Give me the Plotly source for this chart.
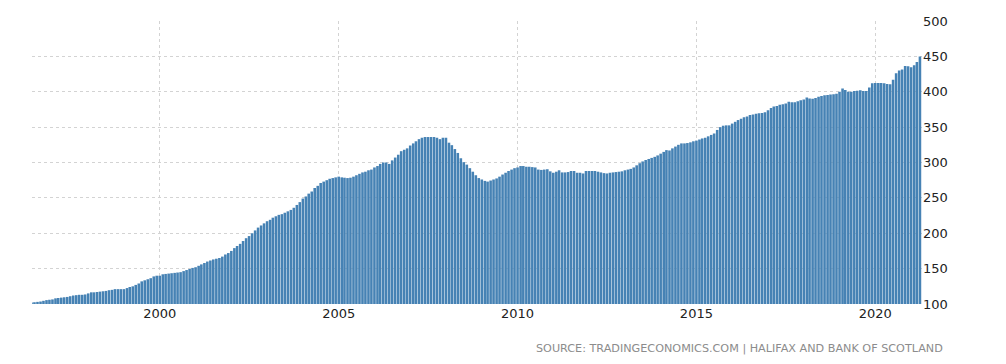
import pandas as pd
import plotly.graph_objects as go

# Halifax house price index, monthly, Jun 1996 - Apr 2021
start_month = "1996-06-01"
v1996 = [102.0, 102.5, 103.0, 103.5, 104.5, 105.5, 106.0]
v1997 = [106.5, 108.0, 108.5, 109.0, 109.5, 110.0, 111.0, 112.0, 112.5, 113.0, 113.0, 113.5]
v1998 = [115.0, 116.5, 116.5, 117.0, 117.5, 118.0, 118.5, 119.5, 120.0, 121.0, 121.0, 121.0]
v1999 = [121.0, 122.5, 124.0, 125.0, 127.0, 129.0, 132.0, 133.5, 135.0, 136.5, 139.0, 140.0]
v2000 = [140.0, 142.0, 142.5, 143.0, 143.5, 144.0, 144.5, 145.0, 146.5, 148.0, 149.5, 151.0]
v2001 = [152.0, 154.0, 156.0, 158.0, 160.0, 161.5, 163.0, 164.0, 165.0, 167.0, 170.0, 172.0]
v2002 = [175.0, 179.0, 182.0, 185.0, 189.0, 193.0, 196.0, 200.0, 204.0, 208.0, 211.0, 214.0]
v2003 = [217.0, 219.0, 222.0, 224.0, 226.0, 227.0, 229.0, 231.0, 233.0, 236.0, 240.0, 244.0]
v2004 = [249.0, 252.0, 256.0, 259.0, 264.0, 267.0, 271.0, 273.0, 275.0, 277.0, 278.0, 279.0]
v2005 = [280.0, 279.0, 278.5, 278.0, 278.5, 280.0, 282.0, 284.0, 286.0, 287.0, 289.0, 290.0]
v2006 = [293.0, 295.0, 298.0, 300.0, 300.0, 298.0, 303.0, 307.0, 311.0, 316.0, 318.0, 320.0]
v2007 = [324.0, 327.0, 330.0, 333.0, 335.0, 336.0, 336.0, 336.0, 336.0, 335.0, 333.0, 335.0]
v2008 = [335.0, 328.0, 324.5, 319.0, 313.5, 306.0, 300.5, 297.0, 292.0, 287.0, 282.0, 278.0]
v2009 = [276.0, 274.0, 273.0, 274.5, 276.0, 277.5, 280.0, 283.0, 285.5, 288.0, 290.0, 292.0]
v2010 = [293.0, 295.0, 295.0, 294.0, 294.0, 293.5, 293.0, 290.0, 289.5, 290.0, 290.5, 287.5]
v2011 = [285.5, 287.0, 289.0, 286.0, 286.0, 286.5, 288.0, 288.0, 285.5, 285.5, 284.5, 288.0]
v2012 = [288.0, 288.0, 288.0, 287.0, 286.0, 285.0, 284.5, 285.5, 286.0, 286.5, 287.0, 287.5]
v2013 = [289.0, 290.0, 291.0, 293.0, 296.0, 299.0, 301.5, 303.5, 305.0, 306.5, 308.0, 310.0]
v2014 = [312.5, 315.0, 317.5, 317.0, 320.0, 322.5, 325.0, 327.0, 327.0, 327.5, 328.5, 330.0]
v2015 = [331.0, 332.5, 334.0, 335.0, 337.0, 339.0, 341.0, 346.0, 350.0, 352.0, 352.5, 352.5]
v2016 = [355.0, 357.5, 360.0, 362.0, 364.0, 365.0, 367.0, 368.0, 369.0, 369.5, 370.0, 371.0]
v2017 = [374.0, 377.0, 379.0, 380.0, 381.5, 382.5, 383.5, 386.0, 385.0, 385.0, 386.5, 388.0]
v2018 = [389.0, 392.0, 390.5, 390.0, 391.0, 393.0, 394.0, 395.0, 395.5, 396.0, 396.5, 397.0]
v2019 = [400.0, 404.5, 402.5, 400.0, 400.0, 401.0, 401.5, 402.0, 401.0, 401.0, 406.0, 412.0]
v2020 = [412.5, 412.5, 412.5, 412.0, 411.0, 410.5, 417.0, 426.0, 430.0, 431.5, 436.5, 436.0]
v2021 = [434.5, 437.5, 442.0, 450.0]

y_ticks = [100, 150, 200, 250, 300, 350, 400, 450, 500]
x_tick_years = ["2000", "2005", "2010", "2015", "2020"]
source_text = "SOURCE: TRADINGECONOMICS.COM | HALIFAX AND BANK OF SCOTLAND"

values = (v1996 + v1997 + v1998 + v1999 + v2000 + v2001 + v2002 + v2003 + v2004
          + v2005 + v2006 + v2007 + v2008 + v2009 + v2010 + v2011 + v2012 + v2013
          + v2014 + v2015 + v2016 + v2017 + v2018 + v2019 + v2020 + v2021)
dates = pd.date_range(start_month, periods=len(values), freq="MS")

fig = go.Figure()
fig.add_trace(go.Bar(
    x=dates, y=values,
    marker=dict(color="#4682B4", line=dict(width=0)),
    hoverinfo="x+y",
))

grid_color = "#d3d3d3"
tick_font = dict(family="DejaVu Sans", size=13, color="#222222")

fig.update_layout(
    width=1006, height=364,
    margin=dict(l=32, r=84, t=21, b=60),
    paper_bgcolor="white", plot_bgcolor="white",
    bargap=0.06,
    showlegend=False,
    xaxis=dict(
        type="date",
        range=["1996-06-06", "2021-04-22"],
        tickvals=[y + "-01-01" for y in x_tick_years],
        ticktext=x_tick_years,
        showgrid=True, gridcolor=grid_color, griddash="dot", gridwidth=1,
        showline=False, zeroline=False, ticks="",
        tickfont=tick_font,
    ),
    yaxis=dict(
        range=[100, 500],
        side="right",
        tickvals=y_ticks,
        showgrid=True, gridcolor=grid_color, griddash="dot", gridwidth=1,
        showline=False, zeroline=False, ticks="",
        tickfont=tick_font,
    ),
    annotations=[dict(
        text=source_text, xref="paper", yref="paper",
        x=(945 - 32) / 890, y=-0.159, xanchor="right", yanchor="middle",
        showarrow=False,
        font=dict(family="DejaVu Sans", size=11.2, color="#8c8c8c"),
    )],
)

fig.write_html(
    "out.html",
    config={"displayModeBar": False},
    post_script="document.body.style.margin='0';document.body.style.padding='0';",
)
